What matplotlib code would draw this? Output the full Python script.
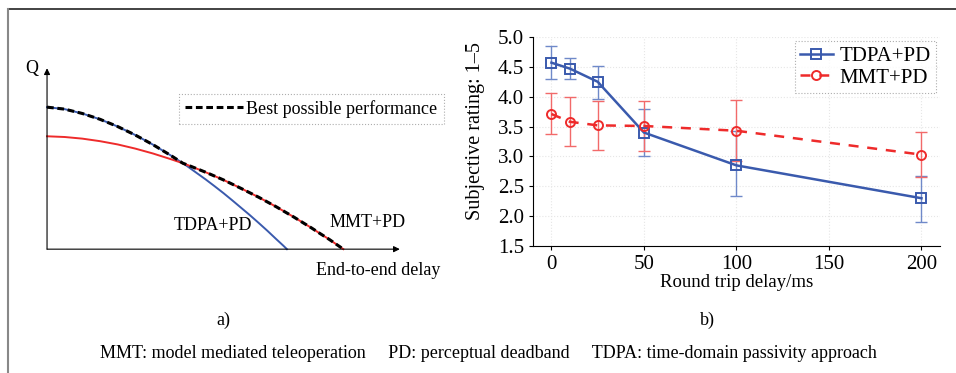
import matplotlib
matplotlib.use("Agg")
import matplotlib.pyplot as plt
from matplotlib.lines import Line2D

plt.rcParams['font.family'] = ['Liberation Serif', 'DejaVu Serif']

# ---- dados: painel a) (curvas esquematicas, lidas da figura) ----
tdpa_x = [0.0, 0.05, 0.1, 0.15, 0.2, 0.25, 0.3, 0.35, 0.385, 0.4, 0.425, 0.45, 0.475, 0.5,
          0.525, 0.55, 0.575, 0.6, 0.625, 0.65, 0.66, 0.67, 0.68]
tdpa_y = [0.785, 0.774, 0.750, 0.718, 0.678, 0.631, 0.578, 0.519, 0.475, 0.455, 0.420, 0.385,
          0.348, 0.310, 0.270, 0.229, 0.188, 0.145, 0.101, 0.055, 0.037, 0.019, 0.0]
mmt_x = [0.0, 0.05, 0.1, 0.15, 0.2, 0.25, 0.3, 0.35, 0.385, 0.4, 0.45, 0.5, 0.55, 0.6,
         0.65, 0.7, 0.75, 0.775, 0.8, 0.82, 0.84]
mmt_y = [0.624, 0.620, 0.611, 0.597, 0.579, 0.556, 0.529, 0.498, 0.475, 0.464, 0.425, 0.383,
         0.336, 0.287, 0.234, 0.177, 0.117, 0.085, 0.054, 0.027, 0.0]
best_x = [0.0, 0.05, 0.1, 0.15, 0.2, 0.25, 0.3, 0.35, 0.385, 0.4, 0.45, 0.5, 0.55, 0.6,
          0.65, 0.7, 0.75, 0.775, 0.8, 0.82, 0.84]
best_y = [0.785, 0.774, 0.750, 0.718, 0.678, 0.631, 0.578, 0.519, 0.475, 0.464, 0.425, 0.383,
          0.336, 0.287, 0.234, 0.177, 0.117, 0.085, 0.054, 0.027, 0.0]

# ---- dados: painel b) ----
delay = [0, 10, 25, 50, 100, 200]
tdpa_mean = [4.57, 4.47, 4.25, 3.40, 2.85, 2.30]
tdpa_low = [4.30, 4.30, 3.97, 3.01, 2.34, 1.91]
tdpa_high = [4.85, 4.65, 4.51, 3.80, 3.42, 2.67]
mmt_mean = [3.71, 3.58, 3.52, 3.51, 3.43, 3.03]
mmt_low = [3.37, 3.18, 3.10, 3.09, 2.92, 2.65]
mmt_high = [4.06, 3.99, 3.93, 3.92, 3.94, 3.41]

blue = '#3a5aad'
red = '#ee2b2b'

fig = plt.figure(figsize=(9.56, 3.73), dpi=100)

# moldura
fig.add_artist(Line2D([0.008, 1.0], [0.976, 0.976], color='#222222', lw=1.2))
fig.add_artist(Line2D([0.008, 0.008], [0.0, 0.976], color='#888888', lw=1.5))

# ---- painel a) ----
axA = fig.add_axes([0.0492, 0.332, 0.369, 0.485])
axA.set_xlim(0, 1)
axA.set_ylim(0, 1)
for s in axA.spines.values():
    s.set_visible(False)
axA.set_xticks([])
axA.set_yticks([])
axA.annotate('', xy=(1.0, 0), xytext=(0, 0),
             arrowprops=dict(arrowstyle='-|>', color='black', lw=0.8, mutation_scale=9, shrinkA=0, shrinkB=0))
axA.annotate('', xy=(0, 1.0), xytext=(0, 0),
             arrowprops=dict(arrowstyle='-|>', color='black', lw=0.8, mutation_scale=9, shrinkA=0, shrinkB=0))
axA.plot(tdpa_x, tdpa_y, color=blue, lw=1.4, clip_on=False)
axA.plot(mmt_x, mmt_y, color=red, lw=1.4, clip_on=False)
axA.plot(best_x, best_y, color='black', lw=2.2, ls=(0, (2.2, 1.2)), clip_on=False,
         label='Best possible performance')
axA.text(-0.025, 1.0, 'Q', fontsize=13, ha='right', va='center')
axA.text(0.47, 0.13, 'TDPA+PD', fontsize=13, ha='center', va='center')
axA.text(0.91, 0.15, 'MMT+PD', fontsize=13, ha='center', va='center')
axA.text(0.94, -0.12, 'End-to-end delay', fontsize=13, ha='center', va='center')
legA = axA.legend(loc='upper right', bbox_to_anchor=(1.125, 0.86), borderaxespad=0, fontsize=13,
                  frameon=True, fancybox=False, handlelength=3.2, borderpad=0.35, handletextpad=0.2)
legA.get_frame().set_edgecolor('#999999')
legA.get_frame().set_linestyle(':')
legA.get_frame().set_linewidth(0.8)

# ---- painel b) ----
axB = fig.add_axes([0.5575, 0.3405, 0.4257, 0.5603])
yerr_t = [[m - l for m, l in zip(tdpa_mean, tdpa_low)], [h - m for m, h in zip(tdpa_mean, tdpa_high)]]
yerr_m = [[m - l for m, l in zip(mmt_mean, mmt_low)], [h - m for m, h in zip(mmt_mean, mmt_high)]]
axB.errorbar(delay, tdpa_mean, yerr=yerr_t, fmt='none', ecolor='#6f89c9', elinewidth=1.0, capsize=4.5, capthick=1.0)
axB.errorbar(delay, mmt_mean, yerr=yerr_m, fmt='none', ecolor='#f26a6a', elinewidth=1.0, capsize=4.5, capthick=1.0)
axB.plot(delay, tdpa_mean, color=blue, lw=1.8, marker='s', markersize=7, markerfacecolor='none',
         markeredgewidth=1.4, label='TDPA+PD')
axB.plot(delay, mmt_mean, color=red, lw=1.8, ls=(0, (4, 3.5)), marker='o', markersize=6.5,
         markerfacecolor='none', markeredgewidth=1.4, label='MMT+PD')
axB.set_xlim(-10, 210)
axB.set_ylim(1.5, 5.0)
axB.set_xticks([0, 50, 100, 150, 200])
axB.set_yticks([1.5, 2.0, 2.5, 3.0, 3.5, 4.0, 4.5, 5.0])
axB.set_yticklabels(['1.5', '2.0', '2.5', '3.0', '3.5', '4.0', '4.5', '5.0'])
axB.spines['top'].set_visible(False)
axB.spines['right'].set_visible(False)
axB.tick_params(labelsize=15, direction='out', length=3, width=0.8)
axB.grid(True, color='#e6e6e6', ls=':', lw=0.8)
axB.set_xlabel('Round trip delay/ms', fontsize=13.5, labelpad=0)
axB.set_ylabel('Subjective rating: 1\u20135', fontsize=14.5)
axB.yaxis.set_label_coords(-0.118, 0.55)
legB = axB.legend(loc='upper right', bbox_to_anchor=(0.99, 0.98), borderaxespad=0, fontsize=15,
                  frameon=True, fancybox=False, handlelength=1.6, borderpad=0.25, labelspacing=0.1,
                  handletextpad=0.3)
legB.get_frame().set_edgecolor('#999999')
legB.get_frame().set_linestyle(':')
legB.get_frame().set_linewidth(0.8)

fig.text(0.234, 0.142, 'a)', fontsize=13, ha='center', va='center')
fig.text(0.740, 0.142, 'b)', fontsize=13, ha='center', va='center')
fig.text(0.511, 0.052, 'MMT: model mediated teleoperation     PD: perceptual deadband     '
         'TDPA: time-domain passivity approach', fontsize=13, ha='center', va='center')

fig.savefig('out.png', dpi=100)
